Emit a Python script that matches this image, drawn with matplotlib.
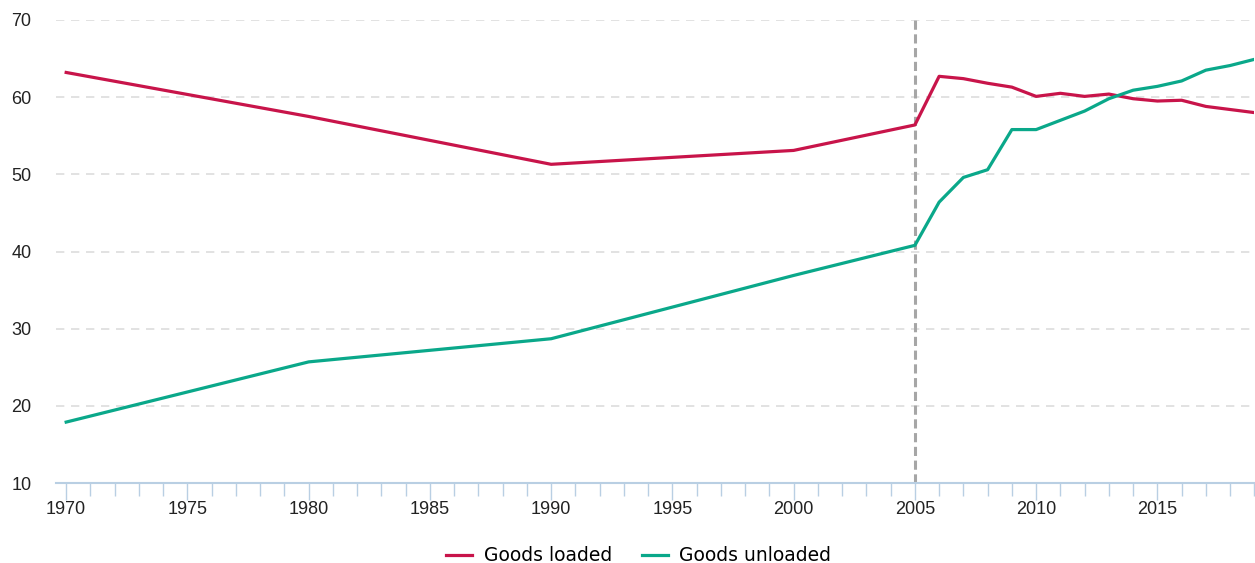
import matplotlib.pyplot as plt
from matplotlib.ticker import MultipleLocator

years = [1970, 1980, 1990, 2000, 2005, 2006, 2007, 2008, 2009, 2010, 2011, 2012,
         2013, 2014, 2015, 2016, 2017, 2018, 2019]
loaded = [63.2, 57.5, 51.3, 53.1, 56.4, 62.7, 62.4, 61.8, 61.3, 60.1, 60.5, 60.1,
          60.4, 59.8, 59.5, 59.6, 58.8, 58.4, 58.0]
unloaded = [17.9, 25.7, 28.7, 36.9, 40.8, 46.4, 49.6, 50.6, 55.8, 55.8, 57.0, 58.2,
            59.8, 60.9, 61.4, 62.1, 63.5, 64.1, 64.9]

red = '#c8144a'
green = '#0aa88a'
axis_col = '#b9cfe3'

fig = plt.figure(figsize=(12.55, 5.63), dpi=100)
ax = fig.add_axes([0.045, 0.142, 0.9545, 0.8225])

ax.plot(years, loaded, color=red, lw=2.3, label='Goods loaded', zorder=3)
ax.plot(years, unloaded, color=green, lw=2.3, label='Goods unloaded', zorder=3)
ax.axvline(2005, color='#a6a6a6', lw=2.2, ls=(0, (3, 1.5)), zorder=2)

ax.set_xlim(1969.6, 2019)
ax.set_ylim(10, 70)
ax.set_yticks(range(10, 71, 10))
ax.xaxis.set_major_locator(MultipleLocator(5))
ax.xaxis.set_minor_locator(MultipleLocator(1))
ax.grid(axis='y', color='#dddddd', ls=(0, (5, 4)), lw=1.2)
ax.set_axisbelow(True)

for s in ['top', 'right', 'left']:
    ax.spines[s].set_visible(False)
ax.spines['bottom'].set_color(axis_col)
ax.spines['bottom'].set_linewidth(1.5)

ax.tick_params(axis='y', length=0, labelsize=13, colors='#222222', pad=18)
ax.tick_params(axis='x', which='major', length=12, width=1, color=axis_col,
               labelsize=13, labelcolor='#222222', pad=1)
ax.tick_params(axis='x', which='minor', length=9, width=1, color=axis_col)
for lbl in ax.get_xticklabels() + ax.get_yticklabels():
    lbl.set_family('Liberation Sans')

fig.legend(loc='lower center', ncol=2, frameon=False, fontsize=13.5,
           bbox_to_anchor=(0.509, -0.027), handlelength=1.4, columnspacing=1.6,
           handletextpad=0.6, borderaxespad=0.3)

fig.savefig('out.png', dpi=100)
